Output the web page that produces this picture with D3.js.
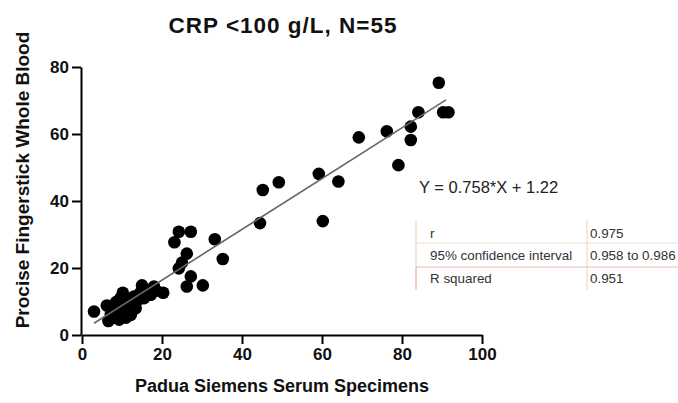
<!DOCTYPE html>
<html>
<head>
<meta charset="utf-8">
<script src="https://cdn.jsdelivr.net/npm/d3@7"></script>
<style>
  body { margin: 0; background: #fff; }
  text { font-family: "Liberation Sans", Arial, sans-serif; }
</style>
</head>
<body>
<svg id="chart" width="678" height="403"></svg>
<script>
// padua (serum) vs procise (fingerstick), CRP < 100 g/L
const serumX = [
  89.2, 84.1, 90.3, 91.6, 82.2, 82.2, 76.2, 69.2, 79.1, 59.2,
  64.1, 49.2, 45.2, 60.2, 44.5, 33.2, 35.2, 24.2, 27.2, 23.1,
  26.2, 25.0, 24.2, 27.2, 26.2, 30.2, 20.3,
  3.0, 6.2, 6.6, 7.2, 7.8, 8.0, 8.5, 9.0, 9.3, 9.6,
  10.2, 10.0, 10.6, 11.0, 11.3, 11.8, 12.2, 12.6, 13.0, 13.4,
  14.0, 14.5, 15.0, 15.5, 16.3, 17.2, 18.0, 18.5
];
const wholeBloodY = [
  75.3, 66.5, 66.5, 66.5, 62.2, 58.2, 60.8, 59.0, 50.7, 48.1,
  45.8, 45.6, 43.3, 34.0, 33.4, 28.6, 22.7, 30.8, 30.8, 27.7,
  24.3, 21.6, 19.9, 17.5, 14.5, 14.8, 12.6,
  7.0, 8.8, 4.2, 6.0, 8.0, 5.2, 9.8, 7.0, 4.6, 11.0,
  12.6, 6.0, 8.5, 5.2, 10.2, 7.2, 6.0, 9.0, 11.5, 8.0,
  10.5, 12.5, 14.8, 11.0, 13.0, 12.0, 14.5, 13.2
];
const xTicks = [0, 20, 40, 60, 80, 100];
const yTicks = [0, 20, 40, 60, 80];
const slope = 0.758;
const intercept = 1.22;
const fitRange = [3, 91];
const statLabels = [`r`, `95% confidence interval`, `R squared`];
const statValues = [`0.975`, `0.958 to 0.986`, `0.951`];

const data = serumX.map((x, i) => ({ x, y: wholeBloodY[i] }));

const svg = d3.select(`#chart`);

const xScale = d3.scaleLinear().domain([0, 100]).range([82, 482]);
const yScale = d3.scaleLinear().domain([0, 80]).range([335, 67]);

// axes
const xAxis = svg.append(`g`)
    .attr(`transform`, `translate(0, 335)`)
    .call(d3.axisBottom(xScale).tickValues(xTicks).tickSize(9).tickPadding(4).tickSizeOuter(0));
const yAxis = svg.append(`g`)
    .attr(`transform`, `translate(81, 0)`)
    .call(d3.axisLeft(yScale).tickValues(yTicks).tickSize(9).tickPadding(3).tickSizeOuter(0));

[xAxis, yAxis].forEach(ax => {
    ax.select(`.domain`).attr(`stroke`, `#000`).attr(`stroke-width`, 2);
    ax.selectAll(`.tick line`).attr(`stroke`, `#000`).attr(`stroke-width`, 2);
    ax.selectAll(`.tick text`)
        .attr(`fill`, `#111`)
        .style(`font-size`, `17px`)
        .style(`font-weight`, `bold`)
        .style(`font-family`, `"Liberation Sans", Arial, sans-serif`);
});

// points
svg.append(`g`).selectAll(`circle`)
    .data(data)
    .enter()
    .append(`circle`)
    .attr(`cx`, d => xScale(d.x))
    .attr(`cy`, d => yScale(d.y))
    .attr(`r`, 6.3)
    .attr(`fill`, `#000`);

// fit line
svg.append(`line`)
    .attr(`x1`, xScale(fitRange[0]))
    .attr(`y1`, yScale(slope * fitRange[0] + intercept))
    .attr(`x2`, xScale(fitRange[1]))
    .attr(`y2`, yScale(slope * fitRange[1] + intercept))
    .attr(`stroke`, `#666`)
    .attr(`stroke-width`, 1.6);

// titles
svg.append(`text`)
    .attr(`x`, 283)
    .attr(`y`, 33)
    .attr(`text-anchor`, `middle`)
    .attr(`font-size`, `22.5px`)
    .attr(`font-weight`, `bold`)
    .attr(`letter-spacing`, `1px`)
    .attr(`fill`, `#111`)
    .text(`CRP <100 g/L, N=55`);

svg.append(`text`)
    .attr(`x`, 282)
    .attr(`y`, 392)
    .attr(`text-anchor`, `middle`)
    .attr(`font-size`, `18px`)
    .attr(`font-weight`, `bold`)
    .attr(`fill`, `#111`)
    .text(`Padua Siemens Serum Specimens`);

svg.append(`text`)
    .attr(`transform`, `translate(29, 180) rotate(-90)`)
    .attr(`text-anchor`, `middle`)
    .attr(`font-size`, `19px`)
    .attr(`font-weight`, `bold`)
    .attr(`fill`, `#111`)
    .text(`Procise Fingerstick Whole Blood`);

// equation + stats table
svg.append(`text`)
    .attr(`x`, 419)
    .attr(`y`, 193)
    .attr(`font-size`, `16.5px`)
    .attr(`font-family`, `"DejaVu Sans", sans-serif`)
    .attr(`fill`, `#222`)
    .text(`Y = ${slope}*X + ${intercept}`);

const table = svg.append(`g`);
const rowY = [220, 243, 267, 290];
const textY = [238, 260, 283];
table.append(`line`)
    .attr(`x1`, 416).attr(`x2`, 416)
    .attr(`y1`, rowY[0]).attr(`y2`, rowY[2])
    .attr(`stroke`, `#e2cfc0`).attr(`stroke-width`, 1);
table.append(`line`)
    .attr(`x1`, 416).attr(`x2`, 416)
    .attr(`y1`, rowY[2]).attr(`y2`, rowY[3])
    .attr(`stroke`, `#e79a90`).attr(`stroke-width`, 1);
table.append(`line`)
    .attr(`x1`, 587).attr(`x2`, 587)
    .attr(`y1`, rowY[0]).attr(`y2`, rowY[3])
    .attr(`stroke`, `#ecd2b0`).attr(`stroke-width`, 1);
table.append(`line`)
    .attr(`x1`, 416).attr(`x2`, 678)
    .attr(`y1`, rowY[1]).attr(`y2`, rowY[1])
    .attr(`stroke`, `#eee0d0`).attr(`stroke-width`, 1);
table.append(`line`)
    .attr(`x1`, 416).attr(`x2`, 678)
    .attr(`y1`, rowY[2]).attr(`y2`, rowY[2])
    .attr(`stroke`, `#efb8ab`).attr(`stroke-width`, 1);

table.selectAll(`.lab`)
    .data(statLabels)
    .enter()
    .append(`text`)
    .attr(`x`, 430)
    .attr(`y`, (d, i) => textY[i])
    .attr(`font-size`, `13.4px`)
    .attr(`font-family`, `"DejaVu Sans", sans-serif`)
    .attr(`fill`, `#333`)
    .text(d => d);

table.selectAll(`.val`)
    .data(statValues)
    .enter()
    .append(`text`)
    .attr(`x`, 590)
    .attr(`y`, (d, i) => textY[i])
    .attr(`font-size`, `13.4px`)
    .attr(`font-family`, `"DejaVu Sans", sans-serif`)
    .attr(`fill`, `#333`)
    .text(d => d);
</script>
</body>
</html>
